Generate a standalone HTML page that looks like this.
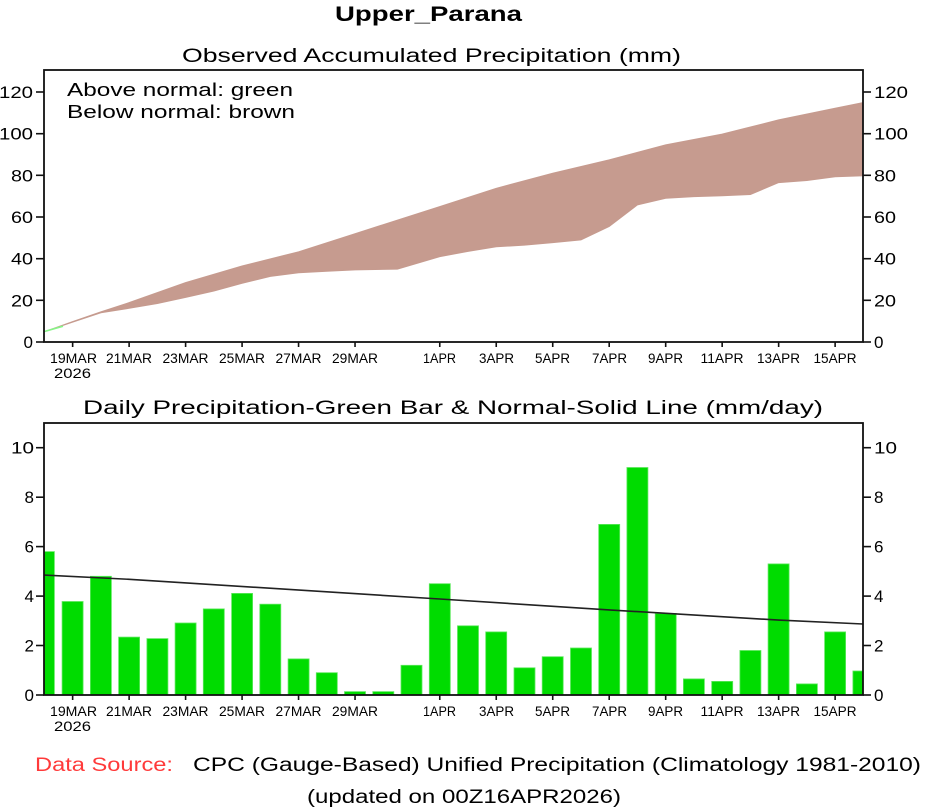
<!DOCTYPE html>
<html>
<head>
<meta charset="utf-8">
<style>
  html,body{margin:0;padding:0;background:#fff;}
  svg{display:block;}
  text{font-family:"Liberation Sans","DejaVu Sans",sans-serif;fill:#000;}
  .yl{font-size:17px;}
  .xl{font-size:14px;}
</style>
</head>
<body>
<svg width="933" height="809" viewBox="0 0 933 809" xmlns="http://www.w3.org/2000/svg">
  <rect width="933" height="809" fill="#fff"/>

  <!-- Titles -->
  <text x="335" y="21" font-size="21" font-weight="bold" textLength="187" lengthAdjust="spacingAndGlyphs">Upper_Parana</text>
  <text x="182" y="62" font-size="19" textLength="499" lengthAdjust="spacingAndGlyphs">Observed Accumulated Precipitation (mm)</text>

  <!-- ===== Plot 1 ===== -->
  <polygon fill="#c69b8f" stroke="#c69b8f" stroke-width="1"
    points="44,331.8 72.64,321.6 100.88,311.8 129.12,302.6 185.6,282.6 242.08,266.0 298.56,251.8 355.04,233.7 439.76,206.6 496.24,188.3 552.72,173.2 609.2,159.9 665.68,144.9 722.16,134.1 778.64,119.9 835.12,108.3 863,102.6
    863,175.8 835.12,176.8 806.88,180.5 778.64,182.6 750.4,194.5 722.16,195.8 693.92,196.6 665.68,198.3 637.44,204.9 609.2,226.4 580.96,239.9 552.72,242.6 524.48,245.1 496.24,246.8 468,251.4 439.76,256.6 397.4,269.1 355.04,269.9 326.8,271.2 298.56,272.8 270.32,276.4 242.08,283.3 213.84,291.0 185.6,297.4 157.36,303.5 129.12,308.3 100.88,312.8 72.64,322.2"/>
  <polyline points="44,331.6 63,326.2" fill="none" stroke="#86f486" stroke-width="1.6"/>

  <text x="67" y="96" font-size="18" textLength="226" lengthAdjust="spacingAndGlyphs">Above normal: green</text>
  <text x="67" y="118" font-size="18" textLength="228" lengthAdjust="spacingAndGlyphs">Below normal: brown</text>

  <rect x="44" y="70" width="819" height="272" fill="none" stroke="#111" stroke-width="1.8"/>

  <g stroke="#111" stroke-width="1.6">
    <line x1="36" y1="342" x2="44" y2="342"/><line x1="863" y1="342" x2="871" y2="342"/>
    <line x1="36" y1="300.3" x2="44" y2="300.3"/><line x1="863" y1="300.3" x2="871" y2="300.3"/>
    <line x1="36" y1="258.7" x2="44" y2="258.7"/><line x1="863" y1="258.7" x2="871" y2="258.7"/>
    <line x1="36" y1="217" x2="44" y2="217"/><line x1="863" y1="217" x2="871" y2="217"/>
    <line x1="36" y1="175.3" x2="44" y2="175.3"/><line x1="863" y1="175.3" x2="871" y2="175.3"/>
    <line x1="36" y1="133.7" x2="44" y2="133.7"/><line x1="863" y1="133.7" x2="871" y2="133.7"/>
    <line x1="36" y1="92" x2="44" y2="92"/><line x1="863" y1="92" x2="871" y2="92"/>
  </g>
  <g class="yl" text-anchor="end">
    <text x="33" y="348">0</text>
    <text x="33" y="306.3" textLength="22" lengthAdjust="spacingAndGlyphs">20</text>
    <text x="33" y="264.7" textLength="22" lengthAdjust="spacingAndGlyphs">40</text>
    <text x="33" y="223" textLength="22" lengthAdjust="spacingAndGlyphs">60</text>
    <text x="33" y="181.3" textLength="22" lengthAdjust="spacingAndGlyphs">80</text>
    <text x="33" y="139.7" textLength="34" lengthAdjust="spacingAndGlyphs">100</text>
    <text x="33" y="98" textLength="34" lengthAdjust="spacingAndGlyphs">120</text>
  </g>
  <g class="yl">
    <text x="874" y="348">0</text>
    <text x="874" y="306.3" textLength="22" lengthAdjust="spacingAndGlyphs">20</text>
    <text x="874" y="264.7" textLength="22" lengthAdjust="spacingAndGlyphs">40</text>
    <text x="874" y="223" textLength="22" lengthAdjust="spacingAndGlyphs">60</text>
    <text x="874" y="181.3" textLength="22" lengthAdjust="spacingAndGlyphs">80</text>
    <text x="874" y="139.7" textLength="34" lengthAdjust="spacingAndGlyphs">100</text>
    <text x="874" y="98" textLength="34" lengthAdjust="spacingAndGlyphs">120</text>
  </g>

  <g stroke="#111" stroke-width="1.6">
    <line x1="72.64" y1="342" x2="72.64" y2="347"/>
    <line x1="129.12" y1="342" x2="129.12" y2="347"/>
    <line x1="185.6" y1="342" x2="185.6" y2="347"/>
    <line x1="242.08" y1="342" x2="242.08" y2="347"/>
    <line x1="298.56" y1="342" x2="298.56" y2="347"/>
    <line x1="355.04" y1="342" x2="355.04" y2="347"/>
    <line x1="439.76" y1="342" x2="439.76" y2="347"/>
    <line x1="496.24" y1="342" x2="496.24" y2="347"/>
    <line x1="552.72" y1="342" x2="552.72" y2="347"/>
    <line x1="609.2" y1="342" x2="609.2" y2="347"/>
    <line x1="665.68" y1="342" x2="665.68" y2="347"/>
    <line x1="722.16" y1="342" x2="722.16" y2="347"/>
    <line x1="778.64" y1="342" x2="778.64" y2="347"/>
    <line x1="835.12" y1="342" x2="835.12" y2="347"/>
  </g>
  <g class="xl">
    <text x="50" y="363" textLength="47" lengthAdjust="spacingAndGlyphs">19MAR</text>
    <text x="54" y="378" textLength="37" lengthAdjust="spacingAndGlyphs">2026</text>
    <text x="106" y="363" textLength="46" lengthAdjust="spacingAndGlyphs">21MAR</text>
    <text x="162.5" y="363" textLength="46" lengthAdjust="spacingAndGlyphs">23MAR</text>
    <text x="219" y="363" textLength="46" lengthAdjust="spacingAndGlyphs">25MAR</text>
    <text x="275.5" y="363" textLength="46" lengthAdjust="spacingAndGlyphs">27MAR</text>
    <text x="332" y="363" textLength="46" lengthAdjust="spacingAndGlyphs">29MAR</text>
    <text x="423" y="363" textLength="33" lengthAdjust="spacingAndGlyphs">1APR</text>
    <text x="479" y="363" textLength="35" lengthAdjust="spacingAndGlyphs">3APR</text>
    <text x="535" y="363" textLength="35" lengthAdjust="spacingAndGlyphs">5APR</text>
    <text x="592" y="363" textLength="35" lengthAdjust="spacingAndGlyphs">7APR</text>
    <text x="648" y="363" textLength="35" lengthAdjust="spacingAndGlyphs">9APR</text>
    <text x="700.5" y="363" textLength="43" lengthAdjust="spacingAndGlyphs">11APR</text>
    <text x="757" y="363" textLength="43" lengthAdjust="spacingAndGlyphs">13APR</text>
    <text x="813.5" y="363" textLength="43" lengthAdjust="spacingAndGlyphs">15APR</text>
  </g>

  <!-- ===== Plot 2 ===== -->
  <text x="83" y="414" font-size="19" textLength="740" lengthAdjust="spacingAndGlyphs">Daily Precipitation-Green Bar &amp; Normal-Solid Line (mm/day)</text>

  <g fill="#00dc00" stroke="#5ee85e" stroke-width="0.8">
    <rect x="44" y="551.6" width="10.4" height="143.4"/>
    <rect x="62.1" y="601.5" width="21" height="93.5"/>
    <rect x="90.4" y="576.3" width="21" height="118.7"/>
    <rect x="118.6" y="637.1" width="21" height="57.9"/>
    <rect x="146.9" y="638.6" width="21" height="56.4"/>
    <rect x="175.1" y="623.0" width="21" height="72.0"/>
    <rect x="203.3" y="608.9" width="21" height="86.1"/>
    <rect x="231.6" y="593.4" width="21" height="101.6"/>
    <rect x="259.8" y="604.2" width="21" height="90.8"/>
    <rect x="288.1" y="658.9" width="21" height="36.1"/>
    <rect x="316.3" y="672.7" width="21" height="22.3"/>
    <rect x="344.5" y="691.6" width="21" height="3.4"/>
    <rect x="372.8" y="691.6" width="21" height="3.4"/>
    <rect x="401.0" y="665.3" width="21" height="29.7"/>
    <rect x="429.3" y="583.7" width="21" height="111.3"/>
    <rect x="457.5" y="625.8" width="21" height="69.2"/>
    <rect x="485.7" y="631.9" width="21" height="63.1"/>
    <rect x="514.0" y="667.8" width="21" height="27.2"/>
    <rect x="542.2" y="656.7" width="21" height="38.3"/>
    <rect x="570.5" y="648.0" width="21" height="47.0"/>
    <rect x="598.7" y="524.4" width="21" height="170.6"/>
    <rect x="626.9" y="467.5" width="21" height="227.5"/>
    <rect x="655.2" y="613.4" width="21" height="81.6"/>
    <rect x="683.4" y="678.9" width="21" height="16.1"/>
    <rect x="711.7" y="681.4" width="21" height="13.6"/>
    <rect x="739.9" y="650.5" width="21" height="44.5"/>
    <rect x="768.1" y="563.9" width="21" height="131.1"/>
    <rect x="796.4" y="683.9" width="21" height="11.1"/>
    <rect x="824.6" y="631.9" width="21" height="63.1"/>
    <rect x="852.9" y="671.0" width="10.1" height="24.0"/>
  </g>

  <polyline fill="none" stroke="#222" stroke-width="1.6"
    points="44,575.1 129.12,579.3 439.76,599.0 609.2,609.9 778.64,620.1 863,624.0"/>

  <rect x="44" y="423" width="819" height="272" fill="none" stroke="#111" stroke-width="1.8"/>

  <g stroke="#111" stroke-width="1.6">
    <line x1="36" y1="695" x2="44" y2="695"/><line x1="863" y1="695" x2="871" y2="695"/>
    <line x1="36" y1="645.5" x2="44" y2="645.5"/><line x1="863" y1="645.5" x2="871" y2="645.5"/>
    <line x1="36" y1="596.1" x2="44" y2="596.1"/><line x1="863" y1="596.1" x2="871" y2="596.1"/>
    <line x1="36" y1="546.6" x2="44" y2="546.6"/><line x1="863" y1="546.6" x2="871" y2="546.6"/>
    <line x1="36" y1="497.2" x2="44" y2="497.2"/><line x1="863" y1="497.2" x2="871" y2="497.2"/>
    <line x1="36" y1="447.7" x2="44" y2="447.7"/><line x1="863" y1="447.7" x2="871" y2="447.7"/>
  </g>
  <g class="yl" text-anchor="end">
    <text x="34" y="701">0</text>
    <text x="34" y="651.5">2</text>
    <text x="34" y="602.1">4</text>
    <text x="34" y="552.6">6</text>
    <text x="34" y="503.2">8</text>
    <text x="34" y="453.7" textLength="23" lengthAdjust="spacingAndGlyphs">10</text>
  </g>
  <g class="yl">
    <text x="874" y="701">0</text>
    <text x="874" y="651.5">2</text>
    <text x="874" y="602.1">4</text>
    <text x="874" y="552.6">6</text>
    <text x="874" y="503.2">8</text>
    <text x="874" y="453.7" textLength="23" lengthAdjust="spacingAndGlyphs">10</text>
  </g>

  <g stroke="#111" stroke-width="1.6">
    <line x1="72.64" y1="695" x2="72.64" y2="700"/>
    <line x1="129.12" y1="695" x2="129.12" y2="700"/>
    <line x1="185.6" y1="695" x2="185.6" y2="700"/>
    <line x1="242.08" y1="695" x2="242.08" y2="700"/>
    <line x1="298.56" y1="695" x2="298.56" y2="700"/>
    <line x1="355.04" y1="695" x2="355.04" y2="700"/>
    <line x1="439.76" y1="695" x2="439.76" y2="700"/>
    <line x1="496.24" y1="695" x2="496.24" y2="700"/>
    <line x1="552.72" y1="695" x2="552.72" y2="700"/>
    <line x1="609.2" y1="695" x2="609.2" y2="700"/>
    <line x1="665.68" y1="695" x2="665.68" y2="700"/>
    <line x1="722.16" y1="695" x2="722.16" y2="700"/>
    <line x1="778.64" y1="695" x2="778.64" y2="700"/>
    <line x1="835.12" y1="695" x2="835.12" y2="700"/>
  </g>
  <g class="xl">
    <text x="50" y="716" textLength="47" lengthAdjust="spacingAndGlyphs">19MAR</text>
    <text x="54" y="731" textLength="37" lengthAdjust="spacingAndGlyphs">2026</text>
    <text x="106" y="716" textLength="46" lengthAdjust="spacingAndGlyphs">21MAR</text>
    <text x="162.5" y="716" textLength="46" lengthAdjust="spacingAndGlyphs">23MAR</text>
    <text x="219" y="716" textLength="46" lengthAdjust="spacingAndGlyphs">25MAR</text>
    <text x="275.5" y="716" textLength="46" lengthAdjust="spacingAndGlyphs">27MAR</text>
    <text x="332" y="716" textLength="46" lengthAdjust="spacingAndGlyphs">29MAR</text>
    <text x="423" y="716" textLength="33" lengthAdjust="spacingAndGlyphs">1APR</text>
    <text x="479" y="716" textLength="35" lengthAdjust="spacingAndGlyphs">3APR</text>
    <text x="535" y="716" textLength="35" lengthAdjust="spacingAndGlyphs">5APR</text>
    <text x="592" y="716" textLength="35" lengthAdjust="spacingAndGlyphs">7APR</text>
    <text x="648" y="716" textLength="35" lengthAdjust="spacingAndGlyphs">9APR</text>
    <text x="700.5" y="716" textLength="43" lengthAdjust="spacingAndGlyphs">11APR</text>
    <text x="757" y="716" textLength="43" lengthAdjust="spacingAndGlyphs">13APR</text>
    <text x="813.5" y="716" textLength="43" lengthAdjust="spacingAndGlyphs">15APR</text>
  </g>

  <!-- Footer -->
  <text x="35" y="771" font-size="19" style="fill:#ff3a3a" textLength="138" lengthAdjust="spacingAndGlyphs">Data Source:</text>
  <text x="193" y="771" font-size="19" textLength="728" lengthAdjust="spacingAndGlyphs">CPC (Gauge-Based) Unified Precipitation (Climatology 1981-2010)</text>
  <text x="307" y="803" font-size="19" textLength="314" lengthAdjust="spacingAndGlyphs">(updated on 00Z16APR2026)</text>
</svg>
</body>
</html>
